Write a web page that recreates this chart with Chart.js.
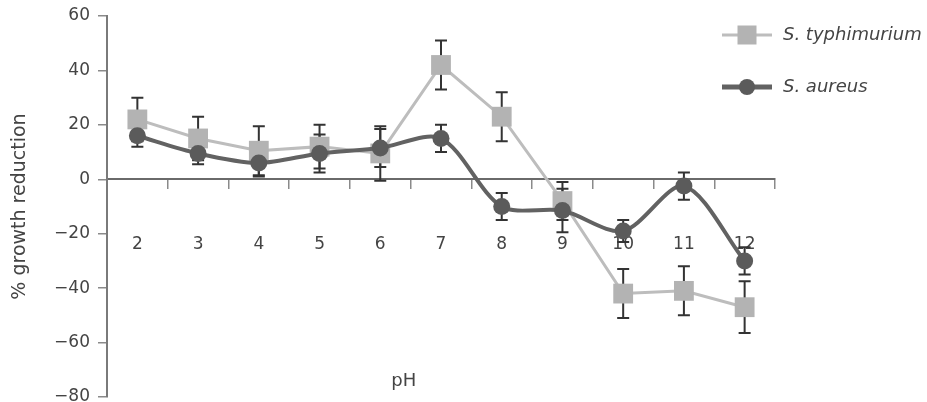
<!DOCTYPE html>
<html>
<head>
<meta charset="utf-8">
<script src="https://cdn.jsdelivr.net/npm/chart.js@4"></script>
<style>
  html, body { margin: 0; padding: 0; background: #fff; }
  #wrap { width: 927px; height: 402px; }
</style>
</head>
<body>
<div id="wrap"><canvas id="chart" width="927" height="402"></canvas></div>
<script>
const phLabels = ['2', '3', '4', '5', '6', '7', '8', '9', '10', '11', '12'];
const typhimurium = [22, 15, 10.5, 12, 9.5, 42, 23, -8, -42, -41, -47];
const typhimuriumErr = [8, 8, 9, 8, 10, 9, 9, 7, 9, 9, 9.5];
const aureus = [16, 9.5, 6, 9.5, 11.5, 15, -10, -11.5, -19, -2.5, -30];
const aureusErr = [4, 4, 5, 7, 7, 5, 5, 8, 4, 5, 5];
const yTicks = [-80, -60, -40, -20, 0, 20, 40, 60];

const LIGHT = '#b3b3b3';
const DARK = '#5b5b5b';
const TEXT = '#444';

Chart.defaults.font.family = 'DejaVu Sans';
Chart.defaults.color = TEXT;

// legend symbol: line with the marker in the middle, like the original
function legendIcon(lineColor, lineWidth, drawMarker) {
  const c = document.createElement('canvas');
  c.width = 50; c.height = 22;
  const ctx = c.getContext('2d');
  ctx.strokeStyle = lineColor;
  ctx.lineWidth = lineWidth;
  ctx.beginPath(); ctx.moveTo(0, 11); ctx.lineTo(50, 11); ctx.stroke();
  drawMarker(ctx);
  return c;
}
const icons = [
  legendIcon('#bdbdbd', 3, (ctx) => { ctx.fillStyle = LIGHT; ctx.fillRect(15.5, 1.5, 19, 19); }),
  legendIcon('#626262', 5, (ctx) => { ctx.fillStyle = DARK; ctx.beginPath(); ctx.arc(25, 11, 8, 0, Math.PI * 2); ctx.fill(); })
];

const errorBars = {
  id: 'errorBars',
  beforeDatasetsDraw(chart) {
    const { ctx } = chart;
    const y = chart.scales.y;
    chart.data.datasets.forEach((ds, di) => {
      const meta = chart.getDatasetMeta(di);
      ctx.save();
      ctx.strokeStyle = '#333';
      ctx.lineWidth = 2;
      meta.data.forEach((pt, i) => {
        const top = y.getPixelForValue(ds.data[i] + ds.errors[i]);
        const bot = y.getPixelForValue(ds.data[i] - ds.errors[i]);
        ctx.beginPath();
        ctx.moveTo(pt.x, top); ctx.lineTo(pt.x, bot);
        ctx.moveTo(pt.x - 6, top); ctx.lineTo(pt.x + 6, top);
        ctx.moveTo(pt.x - 6, bot); ctx.lineTo(pt.x + 6, bot);
        ctx.stroke();
      });
      ctx.restore();
    });
  }
};

// move the legend to the top right corner, overlapping the plot edge
const legendPlace = {
  id: 'legendPlace',
  afterLayout(chart) {
    const lg = chart.legend;
    lg.left = 686; lg.right = lg.left + lg.width;
    lg.top = -8; lg.bottom = lg.top + 300;
  }
};

new Chart(document.getElementById('chart'), {
  type: 'line',
  data: {
    labels: phLabels,
    datasets: [
      {
        label: 'S. typhimurium',
        data: typhimurium,
        errors: typhimuriumErr,
        borderColor: '#bdbdbd',
        borderWidth: 3,
        pointStyle: 'rect',
        pointRadius: 14,
        pointBackgroundColor: LIGHT,
        pointBorderWidth: 0,
        tension: 0,
        order: 1
      },
      {
        label: 'S. aureus',
        data: aureus,
        errors: aureusErr,
        borderColor: '#626262',
        borderWidth: 4,
        pointStyle: 'circle',
        pointRadius: 8.5,
        pointBackgroundColor: DARK,
        pointBorderWidth: 0,
        tension: 0.3,
        order: 0
      }
    ]
  },
  options: {
    responsive: false,
    animation: false,
    devicePixelRatio: 1,
    layout: { autoPadding: false, padding: { top: 16, bottom: 5, left: 0, right: 152 } },
    plugins: {
      tooltip: { enabled: false },
      legend: {
        position: 'chartArea',
        align: 'start',
        labels: {
          usePointStyle: true,
          pointStyleWidth: 54,
          padding: 34,
          color: TEXT,
          font: { size: 18, style: 'italic' },
          sort: (a, b) => a.datasetIndex - b.datasetIndex,
          generateLabels: (chart) => Chart.defaults.plugins.legend.labels.generateLabels(chart)
            .map((item) => ({ ...item, pointStyle: icons[item.datasetIndex] }))
        }
      }
    },
    scales: {
      x: {
        type: 'category',
        position: { y: 0 },
        offset: true,
        grid: { offset: true, drawOnChartArea: false, drawTicks: true, tickLength: 9, color: '#8a8a8a', lineWidth: 1.5 },
        border: { display: true, color: '#6a6a6a', width: 2 },
        ticks: { padding: 46, color: TEXT, font: { size: 17 } },
        title: { display: true, text: 'pH' + '\u00a0'.repeat(13), color: TEXT, font: { size: 18 }, padding: 0 },
        afterFit: (s) => { s.height = 213; s.paddingTop = 0; s.paddingBottom = 0; }
      },
      y: {
        min: -80,
        max: 60,
        afterBuildTicks: (s) => { s.ticks = yTicks.map((v) => ({ value: v })); },
        grid: { drawOnChartArea: false, drawTicks: true, tickLength: 9, color: '#8a8a8a', lineWidth: 1.5 },
        border: { display: true, color: '#7a7a7a', width: 2 },
        ticks: { padding: 8, color: TEXT, font: { size: 17 }, callback: (v) => String(v).replace('-', '\u2212') },
        title: { display: true, text: '% growth reduction', color: TEXT, font: { size: 19 }, padding: { top: 9, bottom: 0 } },
        afterFit: (s) => { s.width = 107; s.paddingTop = 0; s.paddingBottom = 0; }
      }
    }
  },
  plugins: [errorBars, legendPlace]
});
</script>
</body>
</html>
